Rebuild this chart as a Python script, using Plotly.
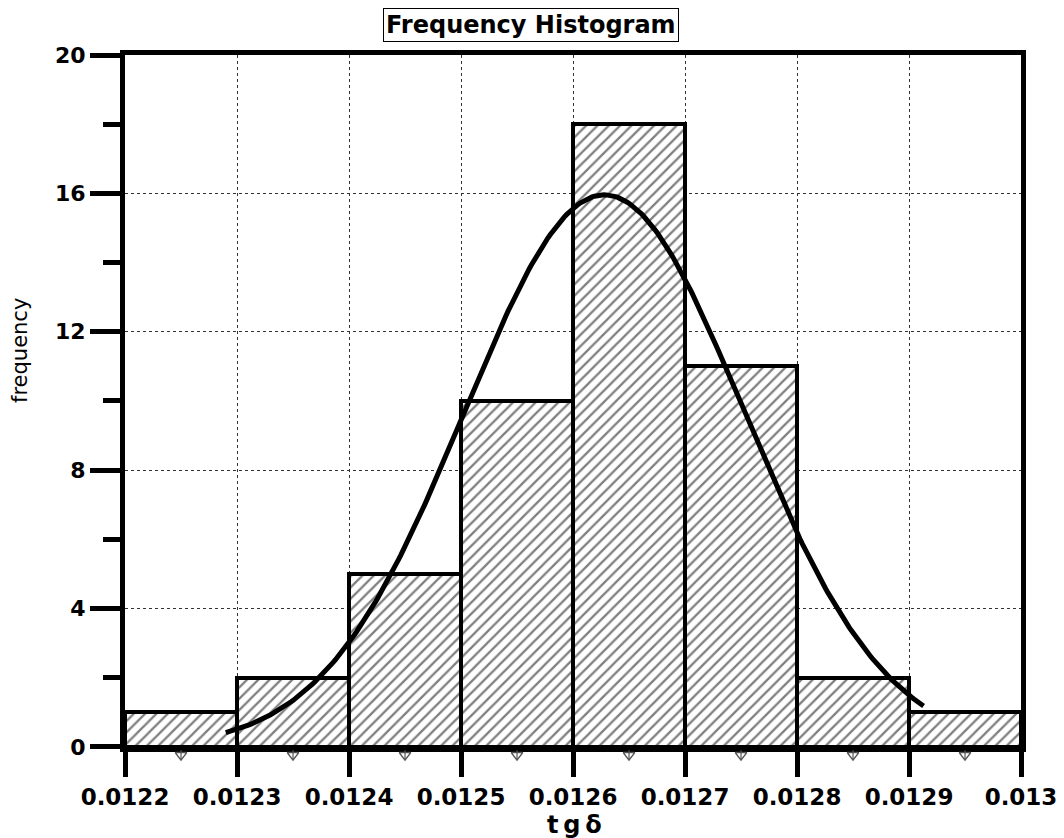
import numpy as np
import plotly.graph_objects as go

# Histogram bins of tg(delta) and observed counts
bin_edges = [0.0122, 0.0123, 0.0124, 0.0125, 0.0126, 0.0127, 0.0128, 0.0129, 0.0130]
counts = [1, 2, 5, 10, 18, 11, 2, 1]

# Fitted normal curve parameters
fit_mean = 0.012628
fit_sigma = 0.000125
fit_start, fit_end = 0.01229, 0.012913

x_ticks = [0.0122, 0.0123, 0.0124, 0.0125, 0.0126, 0.0127, 0.0128, 0.0129, 0.0130]
x_tick_text = ["0.0122", "0.0123", "0.0124", "0.0125", "0.0126", "0.0127", "0.0128", "0.0129", "0.013"]
y_ticks = [0, 4, 8, 12, 16, 20]
y_minor_ticks = [2, 6, 10, 14, 18]

edges = np.array(bin_edges)
centers = (edges[:-1] + edges[1:]) / 2
width = edges[1] - edges[0]
n_total = sum(counts)

xs = np.linspace(fit_start, fit_end, 300)
peak = n_total * width / (fit_sigma * np.sqrt(2 * np.pi))
ys = peak * np.exp(-((xs - fit_mean) ** 2) / (2 * fit_sigma ** 2))

x_range = [bin_edges[0], bin_edges[-1]]

fig = go.Figure()
fig.add_trace(go.Bar(
    x=centers, y=counts, width=[width] * len(counts),
    marker=dict(
        color="white",
        line=dict(color="black", width=4),
        pattern=dict(shape="/", fgcolor="black", bgcolor="white", size=8, solidity=0.28),
    ),
    hoverinfo="x+y", showlegend=False,
))
fig.add_trace(go.Scatter(
    x=xs, y=ys, mode="lines", line=dict(color="black", width=5),
    showlegend=False, hoverinfo="skip",
))
# small minor-tick markers between major x ticks, in a thin strip under the axis
fig.add_trace(go.Scatter(
    x=centers, y=[0.55] * len(centers), mode="markers",
    xaxis="x2", yaxis="y2",
    marker=dict(symbol="triangle-down-open", size=10, color="#555555",
                line=dict(width=1.5, color="#555555")),
    showlegend=False, hoverinfo="skip",
))
fig.add_trace(go.Scatter(
    x=centers, y=[0.55] * len(centers), mode="markers",
    xaxis="x2", yaxis="y2",
    marker=dict(symbol="line-ns-open", size=7, color="#555555",
                line=dict(width=1.2, color="#555555")),
    showlegend=False, hoverinfo="skip",
))

font_family = "DejaVu Sans, Verdana, sans-serif"
strip = 0.0254

fig.update_layout(
    width=1064, height=838,
    margin=dict(l=125, r=43, t=55, b=73),
    paper_bgcolor="white", plot_bgcolor="white",
    bargap=0,
    font=dict(family=font_family, color="black"),
    xaxis=dict(
        range=x_range, anchor="y",
        tickvals=x_ticks, ticktext=x_tick_text,
        tickfont=dict(size=23, family=font_family, weight="bold"),
        ticks="outside", ticklen=25, tickwidth=5, tickcolor="black",
        showline=True, linewidth=5, linecolor="black", mirror=True,
        showgrid=True, gridcolor="#333333", gridwidth=1.3, griddash="dot",
        zeroline=False, automargin=False,
    ),
    yaxis=dict(
        range=[0, 20], domain=[strip, 1], anchor="x",
        tickvals=y_ticks,
        tickfont=dict(size=22, family=font_family, weight="bold"),
        ticks="outside", ticklen=30, tickwidth=5, tickcolor="black",
        minor=dict(tickvals=y_minor_ticks, ticks="outside", ticklen=17, tickwidth=5, tickcolor="black"),
        showline=True, linewidth=5, linecolor="black", mirror=True,
        showgrid=True, gridcolor="#333333", gridwidth=1.3, griddash="dot",
        zeroline=False, automargin=False,
    ),
    xaxis2=dict(range=x_range, anchor="y2", visible=False, matches="x"),
    yaxis2=dict(range=[0, 1], domain=[0, strip], anchor="x2", visible=False),
    annotations=[
        dict(
            text="<b>Frequency Histogram</b>", xref="paper", yref="paper",
            x=0.453, y=1.042, xanchor="center", yanchor="middle", showarrow=False,
            font=dict(size=24, family=font_family, color="black"),
            bordercolor="black", borderwidth=1, borderpad=2, bgcolor="white",
        ),
        dict(
            text="frequency", xref="paper", yref="paper", textangle=-90,
            x=-0.1172, y=0.5845, xanchor="center", yanchor="middle", showarrow=False,
            font=dict(size=21, family=font_family, color="black"),
        ),
        dict(
            text="<b>t\u2009g\u2009δ</b>", xref="paper", yref="paper",
            x=0.502, y=-0.0845, xanchor="center", yanchor="middle", showarrow=False,
            font=dict(size=24, family=font_family, color="black"),
        ),
    ],
)

fig.write_html("out.html")
